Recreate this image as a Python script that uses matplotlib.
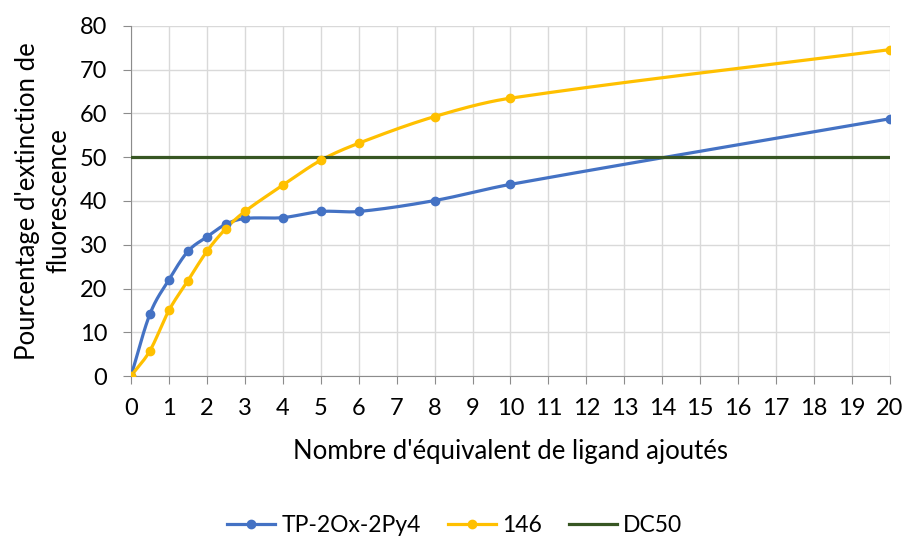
import numpy as np
import matplotlib.pyplot as plt

plt.rcParams['font.family'] = ['Lato', 'DejaVu Sans']

# equivalents of ligand added
x_eq = [0, 0.5, 1, 1.5, 2, 2.5, 3, 4, 5, 6, 8, 10, 20]
tp_2ox = [0, 14.2, 22.0, 28.5, 31.8, 34.7, 36.0, 36.2, 37.6, 37.6, 40.1, 43.8, 58.8]
c146 = [0, 5.8, 15.0, 21.8, 28.5, 33.7, 37.6, 43.6, 49.3, 53.2, 59.3, 63.5, 74.6]
dc50_x = [0, 20]
dc50 = [50, 50]

BLUE = '#4472C4'
YELLOW = '#FFC000'
GREEN = '#375623'


def smooth(xs, ys, n=30):
    # cubic Bezier pieces through the points, similar to Excel smoothed lines
    xs = np.asarray(xs, float)
    ys = np.asarray(ys, float)
    k = len(xs)
    slope = np.zeros(k)
    slope[0] = (ys[1] - ys[0]) / (xs[1] - xs[0])
    slope[-1] = (ys[-1] - ys[-2]) / (xs[-1] - xs[-2])
    for i in range(1, k - 1):
        slope[i] = (ys[i + 1] - ys[i - 1]) / (xs[i + 1] - xs[i - 1])
    t = np.linspace(0, 1, n)
    outx, outy = [], []
    for i in range(k - 1):
        d = (xs[i + 1] - xs[i]) / 3
        bx = [xs[i], xs[i] + d, xs[i + 1] - d, xs[i + 1]]
        by = [ys[i], ys[i] + d * slope[i], ys[i + 1] - d * slope[i + 1], ys[i + 1]]
        for b, out in ((bx, outx), (by, outy)):
            out.extend((1 - t) ** 3 * b[0] + 3 * (1 - t) ** 2 * t * b[1]
                       + 3 * (1 - t) * t ** 2 * b[2] + t ** 3 * b[3])
    return outx, outy


fig = plt.figure(figsize=(9.06, 5.38), dpi=100)
ax = fig.add_axes([0.1446, 0.3011, 0.8377, 0.6506])

for ys, col, lab in ((tp_2ox, BLUE, 'TP-2Ox-2Py4'), (c146, YELLOW, '146')):
    sx, sy = smooth(x_eq, ys)
    ax.plot(sx, sy, color=col, lw=2.3, zorder=3)
    ax.plot(x_eq, ys, 'o', color=col, ms=6, zorder=4)
    ax.plot([], [], '-o', color=col, lw=2.3, ms=6, label=lab)

ax.plot(dc50_x, dc50, color=GREEN, lw=2.3, zorder=3, label='DC50')

ax.set_xlim(0, 20)
ax.set_ylim(0, 80)
ax.set_xticks(range(0, 21))
ax.set_yticks(range(0, 81, 10))
ax.grid(True, color='#D9D9D9', lw=1)
ax.set_axisbelow(True)
for s in ('top', 'right'):
    ax.spines[s].set_visible(False)
for s in ('left', 'bottom'):
    ax.spines[s].set_color('#8C8C8C')
ax.tick_params(colors='#8C8C8C', labelcolor='black', labelsize=17, length=6)
ax.tick_params(axis='y', pad=11)
ax.tick_params(axis='x', pad=10)

ax.set_xlabel("Nombre d'équivalent de ligand ajoutés", fontsize=18.5, labelpad=14)
ax.set_ylabel("Pourcentage d'extinction de\nfluorescence", fontsize=18.5, labelpad=6,
              linespacing=1.3)

fig.legend(loc='center', bbox_to_anchor=(0.502, 0.024), ncol=3, frameon=False,
           fontsize=16.5, handlelength=2.1, columnspacing=1.2, handletextpad=0.25)

fig.savefig('out.png', dpi=100)
